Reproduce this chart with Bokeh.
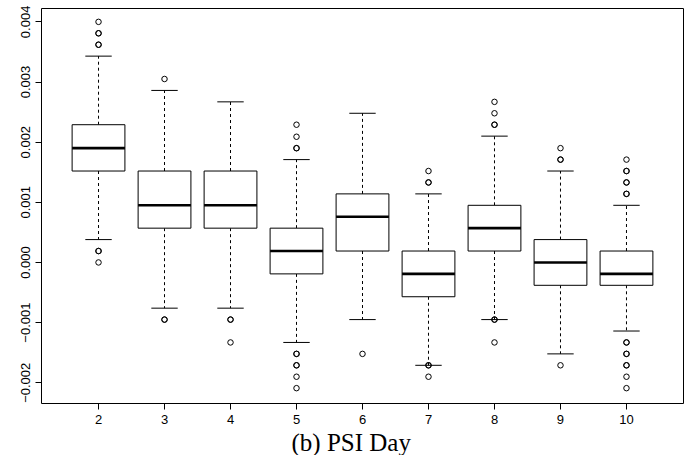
from bokeh.plotting import figure
from bokeh.models import Range1d, FixedTicker, Title, ColumnDataSource
from bokeh.embed import file_html
from bokeh.resources import INLINE

days = [2, 3, 4, 5, 6, 7, 8, 9, 10]
q1 = [0.00152, 0.00057, 0.00057, -0.00019, 0.00019, -0.00057, 0.00019, -0.00038, -0.00038]
med = [0.0019, 0.00095, 0.00095, 0.00019, 0.00076, -0.00019, 0.00057, 0.0, -0.00019]
q3 = [0.00229, 0.00152, 0.00152, 0.00057, 0.00114, 0.00019, 0.00095, 0.00038, 0.00019]
lo = [0.00038, -0.00076, -0.00076, -0.00133, -0.00095, -0.00171, -0.00095, -0.00152, -0.00114]
hi = [0.00343, 0.00286, 0.00267, 0.00171, 0.00248, 0.00114, 0.0021, 0.00152, 0.00095]

outliers = {
    2: [0.004, 0.00381, 0.00381, 0.00362, 0.00362, 0.00019, 0.00019, 0.0],
    3: [0.00305, -0.00095, -0.00095],
    4: [-0.00095, -0.00095, -0.00133],
    5: [0.00229, 0.00209, 0.0019, 0.0019, -0.00152, -0.00152, -0.00171, -0.00171, -0.0019, -0.00209],
    6: [-0.00152],
    7: [0.00152, 0.00133, 0.00133, -0.00171, -0.00171, -0.0019],
    8: [0.00267, 0.00248, 0.00229, 0.00229, -0.00095, -0.00095, -0.00133],
    9: [0.0019, 0.00171, 0.00171, -0.00171],
    10: [0.00171, 0.00152, 0.00152, 0.00133, 0.00133, 0.00114, 0.00114,
         -0.00133, -0.00133, -0.00152, -0.00152, -0.00171, -0.00171, -0.0019, -0.00209],
}

y_ticks = [-0.002, -0.001, 0.0, 0.001, 0.002, 0.003, 0.004]
y_tick_labels = ["\u22120.002", "\u22120.001", "0.000", "0.001", "0.002", "0.003", "0.004"]
x_label = "(b) PSI Day"

p = figure(width=688, height=455, output_backend="svg", toolbar_location=None,
           x_range=Range1d(1.136, 10.864), y_range=Range1d(-0.002345, 0.004222),
           min_border_left=41, min_border_right=5, min_border_top=8, min_border_bottom=52)
p.grid.visible = False
p.background_fill_color = "white"
p.border_fill_color = "white"
p.outline_line_color = "black"
p.outline_line_width = 1

box_w = 0.8
cap_w = 0.4
src = ColumnDataSource(dict(
    x=days, q1=q1, med=med, q3=q3, lo=lo, hi=hi,
    l=[d - box_w / 2 for d in days], r=[d + box_w / 2 for d in days],
    cl=[d - cap_w / 2 for d in days], cr=[d + cap_w / 2 for d in days],
))

# whiskers
p.segment(x0="x", y0="q3", x1="x", y1="hi", source=src, line_color="black",
          line_width=1, line_dash="3 3")
p.segment(x0="x", y0="q1", x1="x", y1="lo", source=src, line_color="black",
          line_width=1, line_dash="3 3")
# caps
p.segment(x0="cl", y0="hi", x1="cr", y1="hi", source=src, line_color="black", line_width=1)
p.segment(x0="cl", y0="lo", x1="cr", y1="lo", source=src, line_color="black", line_width=1)
# boxes
p.quad(left="l", right="r", bottom="q1", top="q3", source=src,
       fill_color="white", line_color="black", line_width=1)
# medians
p.segment(x0="l", y0="med", x1="r", y1="med", source=src, line_color="black", line_width=2.6)

ox, oy = [], []
for d in days:
    for v in outliers[d]:
        ox.append(d)
        oy.append(v)
p.scatter(ox, oy, marker="circle", size=5.5, fill_color=None, line_color="black", line_width=1)

p.xaxis.ticker = FixedTicker(ticks=days)
p.yaxis.ticker = FixedTicker(ticks=y_ticks)
p.yaxis.major_label_overrides = {t: s for t, s in zip(y_ticks, y_tick_labels)}
p.yaxis.major_label_orientation = "vertical"

for ax in (p.xaxis, p.yaxis):
    ax.axis_line_color = None
    ax.major_tick_line_color = "black"
    ax.major_tick_out = 6
    ax.major_tick_in = 0
    ax.minor_tick_line_color = None
    ax.major_label_text_font = "Liberation Sans"
    ax.major_label_text_font_size = "13px"
    ax.major_label_text_color = "black"
    ax.major_label_standoff = 5

t = Title(text=x_label, align="left", offset=250, text_font="Liberation Serif",
          text_font_size="25px", text_font_style="normal", text_color="black", standoff=0)
p.add_layout(t, "below")

open("out.html", "w").write(file_html(p, INLINE))
